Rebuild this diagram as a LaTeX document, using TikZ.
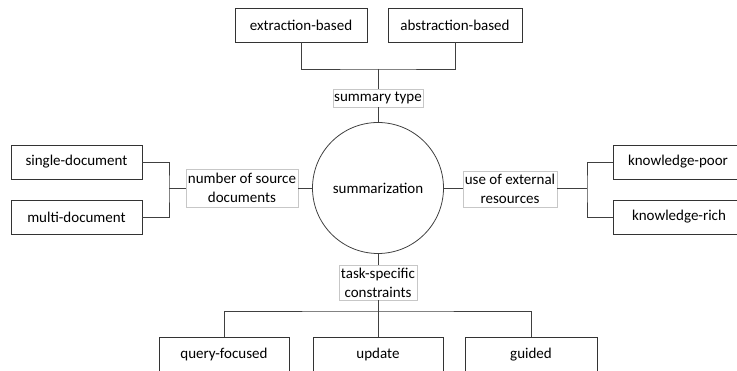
\documentclass[tikz,border=0pt]{standalone}
\usepackage{fontspec}
\setmainfont{Carlito}
\begin{document}
\begin{tikzpicture}[x=1pt,y=-1pt,
  leaf/.style={draw=black!80,line width=0.8pt,fill=white,rectangle,minimum height=34pt,inner sep=0pt,font=\fontsize{15}{18}\selectfont},
  facet/.style={draw=black!22,line width=0.6pt,fill=white,rectangle,inner sep=1.2pt,align=center,font=\fontsize{15}{19}\selectfont},
  wire/.style={draw=black!75,line width=0.8pt}]
\useasboundingbox (0,0) rectangle (737,371);

% centre
\node[circle,draw=black!75,line width=0.8pt,minimum size=131pt,inner sep=0pt,font=\fontsize{15}{18}\selectfont] (sum) at (378,188) {summarization};

% facet labels
\node[facet,minimum width=90pt,minimum height=18pt] (stype) at (378,98) {summary type};
\node[facet,minimum width=112pt,minimum height=38pt] (nsrc) at (242,188) {number of source\\documents};
\node[facet,minimum width=94pt,minimum height=36pt] (ext) at (510,189) {use of external\\resources};
\node[facet,minimum width=78pt,minimum height=35pt] (task) at (378,282.5) {task-specific\\constraints};

% leaves
\node[leaf,minimum width=132pt] (exb) at (301,25) {extraction-based};
\node[leaf,minimum width=134pt] (abb) at (455,25) {abstraction-based};
\node[leaf,minimum width=131pt] (sdoc) at (76.5,162) {single-document};
\node[leaf,minimum width=131pt] (mdoc) at (76.5,217) {multi-document};
\node[leaf,minimum width=140pt,text width=110pt,align=left] (kpoor) at (683,162) {knowledge-poor};
\node[leaf,minimum width=140pt,text width=110pt,align=left] (krich) at (683,217) {\hspace*{4pt}knowledge-rich};
\node[leaf,minimum width=130pt,minimum height=36pt] (qf) at (224,355) {query-focused};
\node[leaf,minimum width=130pt,minimum height=36pt] (upd) at (378,355) {update};
\node[leaf,minimum width=132pt,minimum height=36pt] (gui) at (531,355) {guided};

% junction points
\coordinate (jt) at (378,69);
\coordinate (jl) at (169,188);
\coordinate (jr) at (587,188);
\coordinate (jb) at (378,311);

% top branch
\draw[wire] (exb.south) |- (jt) -| (abb.south);
\draw[wire] (jt) -- (stype.north);
\draw[wire] (stype.south) -- (sum.north);

% left branch
\draw[wire] (sdoc.east) -| (jl) |- (mdoc.east);
\draw[wire] (jl) -- (nsrc.west);
\draw[wire] (nsrc.east) -- (sum.west);

% right branch
\draw[wire] (sum.east) -- (ext.west |- sum.east);
\draw[wire] (ext.east |- jr) -- (jr);
\draw[wire] (kpoor.west) -| (jr) |- (krich.west);

% bottom branch
\draw[wire] (sum.south) -- (task.north);
\draw[wire] (task.south) -- (jb);
\draw[wire] (qf.north) |- (jb) -| (gui.north);
\draw[wire] (jb) -- (upd.north);
\end{tikzpicture}
\end{document}
